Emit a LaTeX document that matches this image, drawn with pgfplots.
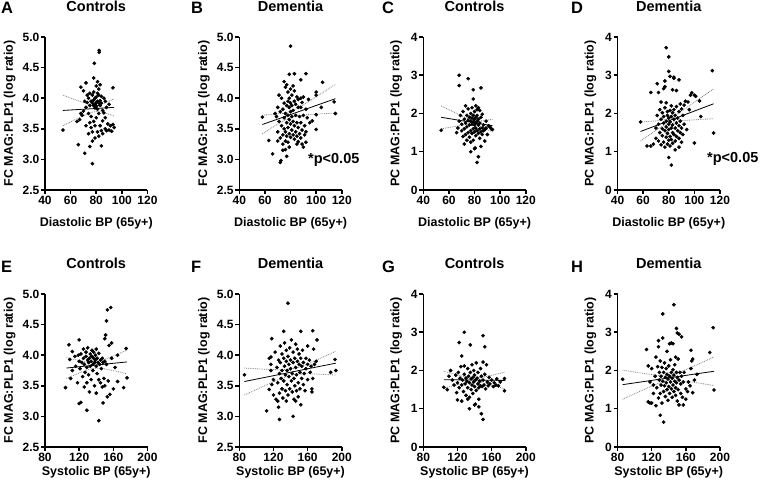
\documentclass[border=0pt]{standalone}
\usepackage{fontspec}
\setmainfont{Liberation Sans}
\usepackage{pgfplots}
\pgfplotsset{compat=1.18}
\pgfplotsset{
 prism/.style={
  scale only axis, width=102.5pt, height=153pt,
  axis lines*=left,
  axis line style={line width=1.5pt},
  tick style={line width=1.5pt, black},
  major tick length=4pt,
  tick align=outside,
  tick label style={font=\fontsize{12}{13}\selectfont\bfseries},
  xticklabel style={inner sep=2pt},
  yticklabel style={inner sep=1.5pt},
  label style={font=\fontsize{12.5}{14}\selectfont\bfseries},
  title style={at={(axis description cs:0.5,1.163)}, anchor=center, font=\fontsize{14.5}{16}\selectfont\bfseries},
  /pgf/number format/assume math mode=true,
  anchor=south west,
  clip=false,
 },
 fcy/.style={ymin=2.5,ymax=5.0,ytick={2.5,3.0,3.5,4.0,4.5,5.0},
  yticklabel style={/pgf/number format/fixed,/pgf/number format/fixed zerofill,/pgf/number format/precision=1},
  ylabel={FC MAG:PLP1 (log ratio)}, ylabel style={at={(axis description cs:-0.345,0.5)}, anchor=center}},
 pcy/.style={ymin=0,ymax=4,ytick={0,1,2,3,4},
  ylabel={PC MAG:PLP1 (log ratio)}, ylabel style={at={(axis description cs:-0.265,0.5)},anchor=center}},
 dia/.style={xmin=40,xmax=120,xtick={40,60,80,100,120}, xlabel={Diastolic BP (65y+)},
  xlabel style={at={(axis description cs:0.5,-0.22)},anchor=center}},
 sys/.style={xmin=80,xmax=200,xtick={80,120,160,200}, xlabel={Systolic BP (65y+)},
  xlabel style={at={(axis description cs:0.5,-0.165)},anchor=center}},
 dots/.style={only marks, mark=*, mark size=1.65pt, black},
 fit/.style={no marks, black, line width=0.8pt},
 band/.style={no marks, gray, densely dotted, line width=0.8pt},
}
\begin{document}
\begin{tikzpicture}
\useasboundingbox (0,0) rectangle (760pt,489pt);
% ---------------- A
\begin{axis}[prism, fcy, dia, title={Controls}, at={(45pt,299pt)}]
\addplot[dots] table {
54 3.48
66 3.24
71 3.10
75 3.21
77 2.93
84 3.22
82.3 4.78
82.3 4.75
78.5 4.57
81 4.27
78 4.33
94 3.52
93 3.57
92 3.46
90 3.48
93 4.17
72 4.25
68 4.18
86 4.00
65 3.62
67 3.65
68 3.75
69 3.72
70 3.79
70 4.12
71 3.95
72 3.85
72 3.55
73 4.05
73 3.93
74 4.00
74 3.75
74 3.42
75 3.60
75 3.88
75 4.08
76 3.95
76 3.70
76 3.52
77 3.92
77 4.05
77 3.45
77 3.30
78 3.88
78 3.97
78 4.10
78 3.62
79 3.90
79 3.84
79 4.00
79 3.35
79 3.55
80 3.93
80 3.87
80 4.02
80 4.20
80 3.68
81 3.95
81 3.82
81 3.45
81 4.08
82 3.92
82 4.05
82 4.15
82 3.75
82 3.38
83 3.96
83 3.88
83 4.22
83 3.55
84 3.92
84 4.03
84 3.47
85 3.80
85 3.63
85 3.42
86 3.76
87 3.68
87 3.50
87 3.95
88 3.85
88 3.47
89 3.58
90 3.90
91 3.55
};
\addplot[fit] coordinates {(54,3.80) (94,3.85)};
\addplot[band, smooth] coordinates {(54,4.050) (60,4.003) (66,3.956) (72,3.913) (76,3.890) (80,3.883) (84,3.900) (88,3.933) (94,3.991)};
\addplot[band, smooth] coordinates {(54,3.550) (60,3.613) (66,3.674) (72,3.732) (76,3.765) (80,3.783) (84,3.775) (88,3.752) (94,3.709)};
\end{axis}
% ---------------- B
\begin{axis}[prism, fcy, dia, title={Dementia}, at={(239.3pt,299pt)}]
\addplot[dots] table {
58 3.69
63 3.31
66 3.09
72 2.95
72.5 2.98
80 4.85
79 4.39
83 4.40
88 4.30
92 4.40
105 4.26
100 4.10
100 4.05
100 3.73
100 3.49
114 3.94
115 3.75
104 3.85
97 3.63
90 3.20
89 3.25
86 3.29
76 3.16
68 3.75
69 3.70
70 3.45
70 3.85
71 4.05
71 3.62
72 3.35
72 3.78
73 3.55
73 4.00
74 3.40
74 3.82
74 3.25
75 4.27
75 3.68
75 3.50
75 3.92
76 3.30
76 4.18
76 3.75
76 3.45
77 3.88
77 3.60
77 4.22
77 3.38
78 3.95
78 3.72
78 3.52
78 4.10
78 3.28
79 3.85
79 3.65
79 3.42
79 4.00
80 3.78
80 3.58
80 3.36
80 4.15
80 3.92
81 3.70
81 3.48
81 4.05
81 3.88
82 3.62
82 3.40
82 4.20
82 3.80
83 3.95
83 3.55
83 3.33
83 4.12
84 3.72
84 3.45
84 3.90
85 3.60
85 4.02
85 3.38
86 3.85
86 3.52
86 3.98
87 3.70
87 3.42
88 4.00
88 3.60
88 3.85
89 3.48
89 3.93
90 3.72
90 4.02
91 3.55
91 3.40
92 3.82
92 3.45
93 3.68
94 3.98
95 3.60
85 3.25
79 3.20
77 3.05
74 3.15
70 3.30
88 3.35
92 3.28
};
\addplot[fit] coordinates {(58,3.57) (115,3.992)};
\addplot[band, smooth] coordinates {(58,3.724) (64,3.731) (70,3.742) (76,3.760) (80,3.783) (86,3.841) (92,3.916) (100,4.022) (108,4.131) (115,4.228)};
\addplot[band, smooth] coordinates {(58,3.416) (64,3.497) (70,3.576) (76,3.647) (80,3.683) (86,3.713) (92,3.728) (100,3.740) (108,3.749) (115,3.756)};
\end{axis}
% ---------------- C
\begin{axis}[prism, pcy, dia, title={Controls}, at={(423.3pt,299pt)}]
\addplot[dots] table {
54 1.56
68 3.00
68 2.73
75 2.91
79 2.62
85 2.67
79 2.38
82 0.72
83 0.87
77 1.00
80 1.08
80.5 1.10
85 1.14
72 1.20
93 1.60
94 1.58
92 1.65
66 1.50
67 1.62
68 1.80
69 1.95
70 1.55
70 1.72
71 1.40
71 2.05
72 1.85
72 1.60
73 1.45
73 2.20
73 1.75
74 1.30
74 1.95
74 1.65
75 1.82
75 1.50
75 2.12
76 1.70
76 1.38
76 1.90
77 1.80
77 1.55
77 2.00
77 1.25
78 1.72
78 1.88
78 1.48
78 2.15
79 1.78
79 1.95
79 1.60
79 1.30
80 1.85
80 1.70
80 2.05
80 1.52
81 1.90
81 1.75
81 1.62
81 2.20
81 1.42
82 1.80
82 1.95
82 1.55
82 2.10
83 1.70
83 1.85
83 1.48
83 2.15
84 1.60
84 1.75
84 1.35
85 1.52
85 1.90
86 1.62
86 1.45
87 1.70
87 1.55
88 1.58
88 1.28
89 1.62
90 1.45
91 1.68
89 1.80
86 1.98
84 2.08
};
\addplot[fit] coordinates {(54,1.90) (94,1.68)};
\addplot[band, smooth] coordinates {(54,2.200) (60,2.100) (66,2.001) (72,1.905) (76,1.847) (80,1.807) (84,1.803) (88,1.817) (94,1.847)};
\addplot[band, smooth] coordinates {(54,1.600) (60,1.634) (66,1.667) (72,1.697) (76,1.711) (80,1.707) (84,1.667) (88,1.609) (94,1.513)};
\end{axis}
% ---------------- D
\begin{axis}[prism, pcy, dia, title={Dementia}, at={(617.5pt,299pt)}]
\addplot[dots] table {
58 1.78
63 1.15
66 1.15
66 2.55
71 2.78
72 2.55
77 2.85
78 3.72
80 3.48
80 3.10
81 2.97
84 2.95
84 2.92
88 2.88
76 2.65
77 2.70
80 0.85
82 0.65
100 1.23
98 2.54
100 2.48
101 2.45
104 2.33
105 1.92
114 3.12
115 1.49
93 2.32
89 2.25
68 1.20
70 1.62
70 1.35
71 1.95
72 1.28
72 1.72
73 2.10
73 1.50
74 1.18
74 1.85
74 2.30
75 1.60
75 1.42
75 2.02
76 1.75
76 1.25
76 1.92
77 1.55
77 2.15
77 1.12
78 1.80
78 1.38
78 1.65
78 2.28
79 1.95
79 1.48
79 1.20
79 2.05
80 1.72
80 1.58
80 1.88
80 1.30
81 2.08
81 1.40
81 1.78
81 1.15
82 1.92
82 1.62
82 2.20
82 1.32
83 1.70
83 1.50
83 2.02
83 1.22
84 1.85
84 1.45
84 2.10
85 1.62
85 1.95
85 1.28
86 1.75
86 2.18
86 1.40
87 1.55
87 1.88
88 1.68
88 2.05
88 1.35
89 1.50
89 1.80
90 1.62
90 2.12
91 1.45
91 1.95
92 1.72
92 2.22
94 1.58
95 2.30
96 2.10
97 2.48
88 1.12
85 1.05
90 1.25
86 2.60
83 2.62
};
\addplot[fit] coordinates {(58,1.53) (115,2.254)};
\addplot[band, smooth] coordinates {(58,1.779) (64,1.792) (70,1.807) (76,1.833) (80,1.869) (86,1.975) (92,2.107) (100,2.291) (108,2.479) (115,2.644)};
\addplot[band, smooth] coordinates {(58,1.281) (64,1.420) (70,1.557) (76,1.685) (80,1.749) (86,1.797) (92,1.817) (100,1.835) (108,1.851) (115,1.864)};
\end{axis}
% ---------------- E
\begin{axis}[prism, fcy, sys, title={Controls}, at={(45pt,42pt)}]
\addplot[dots] table {
104 3.47
108 4.17
110 3.62
112 4.06
120 4.25
120 3.21
122 3.23
129 3.10
143 2.93
148 3.22
150 4.27
151 4.33
152 4.56
153 4.74
157 4.78
155 4.16
158 4.20
175 4.11
176 3.63
172 3.47
165 3.57
160 3.45
153 3.32
156 3.36
109 3.93
112 3.75
115 3.98
116 3.82
118 3.55
119 4.00
120 3.90
121 3.78
122 4.02
123 3.88
124 3.65
125 3.95
125 4.10
126 3.85
126 3.48
127 3.72
128 3.98
128 4.05
129 3.80
129 3.55
130 3.92
130 4.12
131 3.68
131 3.88
132 3.95
132 3.40
133 4.02
133 3.82
134 3.90
134 3.60
135 4.08
135 3.98
136 3.85
136 3.75
137 3.95
137 4.05
138 3.88
138 3.50
139 4.00
139 3.92
140 3.82
140 4.10
140 3.38
141 3.95
141 3.70
142 3.88
143 4.03
143 3.60
144 3.85
145 3.92
145 3.55
146 3.78
147 3.95
147 3.48
148 3.88
149 3.62
150 3.90
150 3.50
152 3.85
154 3.58
158 3.95
162 3.80
165 4.00
};
\addplot[fit] coordinates {(105,3.79) (176,3.89)};
\addplot[band, smooth] coordinates {(105,3.960) (115,3.928) (125,3.899) (132,3.886) (138,3.887) (144,3.903) (152,3.941) (162,3.998) (176,4.084)};
\addplot[band, smooth] coordinates {(105,3.620) (115,3.680) (125,3.737) (132,3.770) (138,3.787) (144,3.787) (152,3.771) (162,3.742) (176,3.696)};
\end{axis}
% ---------------- F
\begin{axis}[prism, fcy, sys, title={Dementia}, at={(239.3pt,42pt)}]
\addplot[dots] table {
86 3.68
112 3.09
115 3.44
118 4.27
117 3.97
117 3.85
117 3.75
127 2.95
137 4.85
132 4.39
143 3.00
152 4.39
166 4.40
171 4.25
187 3.72
192 3.93
193 3.75
167 4.10
165 3.45
165 3.40
152 3.19
126 3.15
125 3.25
120 3.60
120 3.35
122 4.05
124 3.80
125 3.55
126 3.92
127 3.70
127 3.38
128 4.15
128 3.88
129 3.62
130 3.45
130 4.02
130 3.75
131 3.30
132 3.95
132 3.58
133 3.82
133 4.20
134 3.68
134 3.42
135 3.90
135 4.08
136 3.75
136 3.52
137 3.98
137 3.35
138 3.85
138 3.65
139 4.12
139 3.45
140 3.78
140 3.92
141 3.58
141 4.25
142 3.70
142 3.40
143 3.88
143 4.05
144 3.62
144 3.28
145 3.95
145 3.50
146 3.80
146 4.18
147 3.68
147 3.42
148 3.90
148 4.10
149 3.55
149 3.32
150 3.85
150 4.02
151 3.72
151 3.45
152 3.95
153 3.62
153 3.82
154 4.08
155 3.52
155 3.88
156 3.70
157 3.42
158 3.95
158 3.78
160 3.85
160 3.60
162 3.92
163 3.72
164 3.82
166 3.62
168 3.85
170 3.90
115 3.95
118 3.52
123 3.28
135 3.25
146 3.25
160 4.15
};
\addplot[fit] coordinates {(86,3.57) (193,3.87)};
\addplot[band, smooth] coordinates {(86,3.790) (100,3.778) (115,3.768) (130,3.763) (143,3.780) (155,3.830) (170,3.918) (193,4.064)};
\addplot[band, smooth] coordinates {(86,3.350) (100,3.440) (115,3.535) (130,3.623) (143,3.680) (155,3.696) (170,3.692) (193,3.676)};
\end{axis}
% ---------------- G
\begin{axis}[prism, pcy, sys, title={Controls}, at={(423.3pt,42pt)}]
\addplot[dots] table {
104 1.56
108 1.50
112 2.00
119 1.42
122 2.73
125 2.38
128 3.00
135 2.67
150 2.91
152 2.62
148 0.87
150 0.72
134 1.00
140 1.10
141 1.12
120 1.23
125 1.20
175 1.47
175 1.79
170 1.70
110 1.85
114 1.75
116 1.62
118 1.88
120 1.68
121 1.95
122 1.55
123 1.80
124 2.10
125 1.62
126 1.75
127 1.45
128 1.90
128 2.12
129 1.65
130 1.80
130 1.35
131 1.72
132 2.05
132 1.55
133 1.85
134 1.68
134 1.30
135 1.95
136 1.78
136 1.50
137 2.15
137 1.62
138 1.82
138 1.40
139 1.70
139 2.00
140 1.88
140 1.58
141 1.75
142 2.20
142 1.48
143 1.80
144 1.65
144 1.95
145 1.55
145 1.25
146 1.72
147 2.05
147 1.60
148 1.85
149 1.58
150 1.75
150 2.22
151 1.62
152 1.90
153 1.52
154 2.15
155 1.70
156 1.60
157 1.82
158 1.65
160 1.75
162 1.58
163 1.68
165 1.62
166 1.78
168 1.60
145 1.05
132 1.25
};
\addplot[fit] coordinates {(104,1.76) (176,1.74)};
\addplot[band, smooth] coordinates {(104,1.980) (114,1.920) (124,1.862) (132,1.821) (140,1.800) (148,1.817) (156,1.854) (166,1.906) (176,1.960)};
\addplot[band, smooth] coordinates {(104,1.540) (114,1.594) (124,1.647) (132,1.683) (140,1.700) (148,1.679) (156,1.639) (166,1.580) (176,1.520)};
\end{axis}
% ---------------- H
\begin{axis}[prism, pcy, sys, title={Dementia}, at={(617.5pt,42pt)}]
\addplot[dots] table {
86 1.77
114 2.55
116 1.18
118 1.15
120 1.15
128 2.62
128 2.78
130 0.83
133 2.85
133 3.48
134 0.65
145 2.70
141 2.70
146 3.72
149 3.10
150 2.98
152 2.95
155 2.88
166 2.53
168 2.30
173 1.90
188 2.47
192 3.12
193 1.49
157 1.10
116 2.12
118 1.70
120 2.05
122 1.62
124 1.85
125 2.35
126 1.55
127 2.10
128 1.28
129 1.75
129 1.95
130 1.40
130 2.25
131 1.62
131 1.85
132 1.15
132 2.08
133 1.72
134 1.45
134 1.95
135 1.60
135 2.20
136 1.82
136 1.32
137 1.68
137 2.05
138 1.50
138 1.90
139 1.78
139 1.22
140 2.12
140 1.58
141 1.85
141 1.40
142 1.70
142 2.28
143 1.95
143 1.52
144 1.30
144 1.80
145 2.02
145 1.62
146 1.45
146 1.88
147 1.72
147 2.15
148 1.55
148 1.35
149 1.95
149 1.68
150 1.20
150 1.82
151 1.50
151 2.30
152 1.75
152 1.10
153 1.95
154 1.40
154 1.65
155 1.85
156 1.30
157 1.70
158 1.95
160 1.52
160 1.25
162 1.45
163 1.70
165 1.60
166 2.05
167 2.25
168 1.42
170 1.75
122 1.40
125 1.08
138 2.50
143 2.72
148 2.35
};
\addplot[fit] coordinates {(86,1.63) (193,1.98)};
\addplot[band, smooth] coordinates {(86,2.010) (100,1.960) (115,1.909) (130,1.866) (140,1.867) (150,1.931) (165,2.072) (180,2.221) (193,2.353)};
\addplot[band, smooth] coordinates {(86,1.250) (100,1.392) (115,1.541) (130,1.682) (140,1.747) (150,1.747) (165,1.704) (180,1.653) (193,1.607)};
\end{axis}
% panel letters and annotations
\begin{scope}[every node/.style={font=\fontsize{16.5}{18}\selectfont\bfseries, anchor=west, inner sep=0pt}]
\node at (1pt,481pt) {A};
\node at (191pt,481pt) {B};
\node at (382pt,481pt) {C};
\node at (571pt,481pt) {D};
\node at (1pt,222pt) {E};
\node at (191pt,222pt) {F};
\node at (382pt,222pt) {G};
\node at (571pt,222pt) {H};
\end{scope}
\node[font=\fontsize{14.5}{16}\selectfont\bfseries, anchor=west, inner sep=0pt] at (308pt,329pt) {*p<0.05};
\node[font=\fontsize{14.5}{16}\selectfont\bfseries, anchor=west, inner sep=0pt] at (707pt,330pt) {*p<0.05};
\end{tikzpicture}
\end{document}
